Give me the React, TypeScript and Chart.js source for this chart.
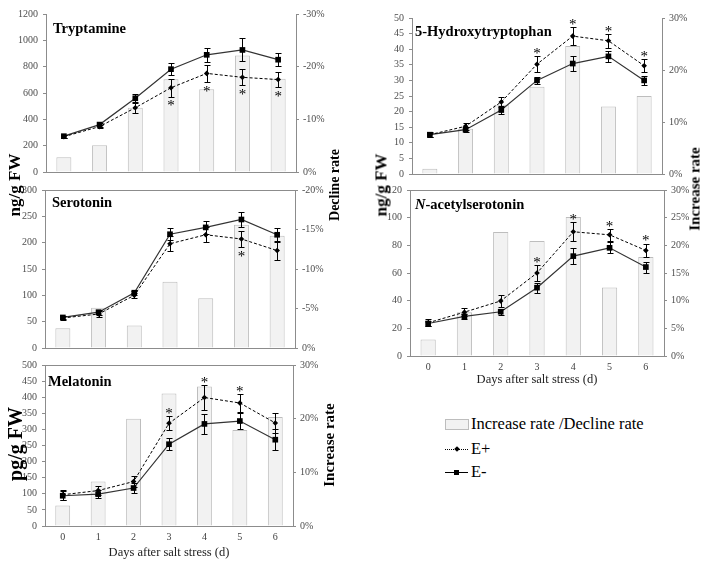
import React, { useEffect, useRef } from 'react';
import { Chart, registerables } from 'chart.js';
Chart.register(...registerables);

const days = ['0', '1', '2', '3', '4', '5', '6'];

// Tryptamine (ng/g FW), decline rate (%)
const tryptamineEPlus = [268, 345, 488, 640, 749, 719, 702];
const tryptamineEPlusErr = [12, 14, 43, 67, 65, 62, 56];
const tryptamineEMinus = [272, 360, 560, 781, 890, 927, 853];
const tryptamineEMinusErr = [12, 15, 33, 45, 52, 87, 50];
const tryptamineRate = [-2.8, -5.1, -12.2, -17.6, -15.7, -22.1, -17.7];
const tryptamineStars = [0, 0, 0, 1, 1, 1, 1];

// Serotonin (ng/g FW), decline rate (%)
const serotoninEPlus = [57, 64.5, 100, 198, 215, 207, 185];
const serotoninEPlusErr = [3, 6, 5, 14, 14, 16, 18];
const serotoninEMinus = [58, 68, 105, 216, 229, 244, 215];
const serotoninEMinusErr = [3, 5, 4, 11, 13, 14, 13];
const serotoninRate = [-2.5, -5.1, -2.85, -8.4, -6.3, -15.6, -14.2];
const serotoninStars = [0, 0, 0, 0, 0, 1, 0];

// Melatonin (pg/g FW), increase rate (%)
const melatoninEPlus = [97, 110, 138, 319, 399, 382, 320];
const melatoninEPlusErr = [15, 15, 18, 22, 40, 27, 32];
const melatoninEMinus = [94, 99, 118, 254, 317, 326, 268];
const melatoninEMinusErr = [14, 12, 17, 19, 30, 25, 32];
const melatoninRate = [3.8, 8.3, 20.0, 24.7, 26.0, 17.9, 20.3];
const melatoninStars = [0, 0, 0, 1, 1, 1, 0];

// 5-Hydroxytryptophan (ng/g FW), increase rate (%)
const htpEPlus = [12.6, 15.3, 23.1, 35.2, 44.2, 42.7, 34.7];
const htpEPlusErr = [0.7, 1.2, 1.7, 2.5, 3.0, 2.2, 2.0];
const htpEMinus = [12.6, 14.2, 20.5, 30.0, 35.4, 37.7, 30.0];
const htpEMinusErr = [0.8, 0.8, 1.2, 1.0, 2.3, 1.7, 1.5];
const htpRate = [1.0, 8.7, 13.3, 16.8, 24.6, 13.0, 15.0];
const htpStars = [0, 0, 0, 1, 1, 1, 1];

// N-acetylserotonin (ng/g FW), increase rate (%)
const nasEPlus = [24, 31.7, 39.8, 60, 89.8, 87.6, 76.3];
const nasEPlusErr = [2.5, 3, 4.5, 5.5, 7, 4.5, 5];
const nasEMinus = [23.5, 28.6, 32, 49.4, 72.2, 78.2, 64.3];
const nasEMinusErr = [2, 2, 2, 3.5, 6, 4, 4];
const nasRate = [3.0, 7.9, 22.4, 20.8, 25.1, 12.4, 17.9];
const nasStars = [0, 0, 0, 1, 1, 1, 1];

const xTitle = 'Days after salt stress (d)';
const FONT = '"Liberation Serif", "Times New Roman", serif';

type Panel = {
  key: string;
  italic?: string;
  name: string;
  ePlus: number[]; ePlusErr: number[];
  eMinus: number[]; eMinusErr: number[];
  rate: number[]; stars: number[]; starBelow: boolean;
  yMax: number; yStep: number;
  rMin: number; rMax: number; rStep: number; reverse: boolean;
  showX: boolean; xh: number;
  L: number; R: number; T: number; B: number;
  tdx: number; tdy: number; topBorder: boolean;
};

const panels: Panel[] = [
  { key: 'tryp', name: 'Tryptamine', ePlus: tryptamineEPlus, ePlusErr: tryptamineEPlusErr, eMinus: tryptamineEMinus, eMinusErr: tryptamineEMinusErr, rate: tryptamineRate, stars: tryptamineStars, starBelow: true,
    yMax: 1200, yStep: 200, rMin: -30, rMax: 0, rStep: 10, reverse: true, showX: false, xh: 8,
    L: 46, R: 296, T: 13, B: 175, tdx: 7, tdy: 15, topBorder: false },
  { key: 'sero', name: 'Serotonin', ePlus: serotoninEPlus, ePlusErr: serotoninEPlusErr, eMinus: serotoninEMinus, eMinusErr: serotoninEMinusErr, rate: serotoninRate, stars: serotoninStars, starBelow: true,
    yMax: 300, yStep: 50, rMin: -20, rMax: 0, rStep: 5, reverse: true, showX: false, xh: 8,
    L: 45, R: 295, T: 189, B: 351, tdx: 7, tdy: 13, topBorder: true },
  { key: 'mela', name: 'Melatonin', ePlus: melatoninEPlus, ePlusErr: melatoninEPlusErr, eMinus: melatoninEMinus, eMinusErr: melatoninEMinusErr, rate: melatoninRate, stars: melatoninStars, starBelow: false,
    yMax: 500, yStep: 50, rMin: 0, rMax: 30, rStep: 10, reverse: false, showX: true, xh: 40,
    L: 45, R: 293, T: 364, B: 526, tdx: 3, tdy: 17, topBorder: true },
  { key: 'htp', name: '5-Hydroxytryptophan', ePlus: htpEPlus, ePlusErr: htpEPlusErr, eMinus: htpEMinus, eMinusErr: htpEMinusErr, rate: htpRate, stars: htpStars, starBelow: false,
    yMax: 50, yStep: 5, rMin: 0, rMax: 30, rStep: 10, reverse: false, showX: false, xh: 8,
    L: 412, R: 662, T: 17, B: 177, tdx: 3, tdy: 14, topBorder: false },
  { key: 'nas', italic: 'N', name: '-acetylserotonin', ePlus: nasEPlus, ePlusErr: nasEPlusErr, eMinus: nasEMinus, eMinusErr: nasEMinusErr, rate: nasRate, stars: nasStars, starBelow: false,
    yMax: 120, yStep: 20, rMin: 0, rMax: 30, rStep: 5, reverse: false, showX: true, xh: 37,
    L: 410, R: 664, T: 189, B: 356, tdx: 5, tdy: 15, topBorder: true },
];

const errorBarPlugin = {
  id: 'errorBars',
  afterDatasetsDraw(chart: any) {
    const ctx = chart.ctx;
    const ys = chart.scales.y;
    chart.data.datasets.forEach((ds: any, di: number) => {
      if (!ds.errors) return;
      const meta = chart.getDatasetMeta(di);
      ctx.save();
      ctx.strokeStyle = '#000';
      ctx.lineWidth = 1;
      ctx.setLineDash([]);
      meta.data.forEach((pt: any, i: number) => {
        const v = ds.data[i];
        const e = ds.errors[i];
        const x = Math.round(pt.x) + 0.5;
        const yt = Math.round(ys.getPixelForValue(v + e)) + 0.5;
        const yb = Math.round(ys.getPixelForValue(v - e)) + 0.5;
        ctx.beginPath();
        ctx.moveTo(x, yt); ctx.lineTo(x, yb);
        ctx.moveTo(x - 3, yt); ctx.lineTo(x + 3, yt);
        ctx.moveTo(x - 3, yb); ctx.lineTo(x + 3, yb);
        ctx.stroke();
      });
      if (ds.stars) {
        ctx.font = '15px ' + FONT;
        ctx.fillStyle = '#000';
        ctx.textAlign = 'center';
        ctx.textBaseline = 'middle';
        ds.stars.forEach((s: number, i: number) => {
          if (!s) return;
          const pt = meta.data[i];
          const v = ds.data[i];
          const e = ds.errors[i];
          const yy = ds.starBelow ? ys.getPixelForValue(v - e) + 10 : ys.getPixelForValue(v + e) - 2;
          ctx.fillText('*', pt.x, yy);
        });
      }
      ctx.restore();
    });
  },
};

const panelTitlePlugin = {
  id: 'panelTitle',
  afterDraw(chart: any, _args: any, opts: any) {
    const { ctx, chartArea } = chart;
    ctx.save();
    if (opts.topBorder) {
      ctx.strokeStyle = '#8c8c8c';
      ctx.lineWidth = 1;
      ctx.beginPath();
      ctx.moveTo(chartArea.left, Math.round(chartArea.top) + 0.5);
      ctx.lineTo(chartArea.right, Math.round(chartArea.top) + 0.5);
      ctx.stroke();
    }
    ctx.fillStyle = '#000';
    ctx.textBaseline = 'middle';
    ctx.textAlign = 'left';
    let x = chartArea.left + opts.dx;
    const y = chartArea.top + opts.dy;
    if (opts.italic) {
      ctx.font = 'italic bold 14.5px ' + FONT;
      ctx.fillText(opts.italic, x, y);
      x += ctx.measureText(opts.italic).width;
    }
    ctx.font = 'bold 14.5px ' + FONT;
    ctx.fillText(opts.text, x, y);
    ctx.restore();
  },
};

function PanelChart({ p }: { p: Panel }) {
  const ref = useRef<HTMLCanvasElement>(null);
  const padTop = 10;
  const xh = p.xh;
  const w = p.R - p.L + 90;
  const h = p.B - p.T + padTop + xh;
  useEffect(() => {
    const chart = new Chart(ref.current as HTMLCanvasElement, {
      type: 'bar',
      data: {
        labels: days,
        datasets: [
          {
            type: 'line', label: 'E+', data: p.ePlus, errors: p.ePlusErr, stars: p.stars, starBelow: p.starBelow,
            borderColor: '#000', borderWidth: 1, borderDash: [3, 2], pointStyle: 'rectRot', pointRadius: 2.8,
            pointBackgroundColor: '#000', pointBorderColor: '#000', pointBorderWidth: 0, yAxisID: 'y', order: 1,
          } as any,
          {
            type: 'line', label: 'E-', data: p.eMinus, errors: p.eMinusErr,
            borderColor: '#333', borderWidth: 1.2, pointStyle: 'rect', pointRadius: 4,
            pointBackgroundColor: '#000', pointBorderColor: '#000', pointBorderWidth: 0, yAxisID: 'y', order: 2,
          } as any,
          {
            type: 'bar', label: 'rate', data: p.rate, backgroundColor: '#f2f2f2', borderColor: '#bdbdbd',
            borderWidth: 1, yAxisID: 'y1', barPercentage: 0.42, categoryPercentage: 1, order: 3,
          } as any,
        ],
      },
      options: {
        animation: false,
        responsive: false,
        maintainAspectRatio: false,
        layout: { padding: { top: padTop, left: 0, right: 0, bottom: 0 } },
        plugins: {
          legend: { display: false },
          tooltip: { enabled: false },
          panelTitle: { text: p.name, italic: p.italic, dx: p.tdx, dy: p.tdy, topBorder: p.topBorder },
        } as any,
        scales: {
          x: {
            grid: { display: false, drawTicks: false },
            border: { display: true, color: '#8c8c8c' },
            ticks: { display: p.showX, color: '#404040', font: { size: 10, family: FONT }, padding: 5 },
            title: { display: p.showX, text: xTitle, color: '#222', font: { size: 12.5, family: FONT }, padding: { top: 0, bottom: 5.5 } },
            afterFit: (s: any) => { s.height = xh; },
          },
          y: {
            position: 'left', min: 0, max: p.yMax,
            ticks: { stepSize: p.yStep, color: '#4d4d4d', font: { size: 10, family: FONT }, padding: 5, callback: (v: any) => String(v) },
            grid: { drawOnChartArea: false, drawTicks: true, tickLength: 3, color: '#8c8c8c' },
            border: { display: true, color: '#8c8c8c' },
            afterFit: (s: any) => { s.width = 45; },
          },
          y1: {
            position: 'right', min: p.rMin, max: p.rMax, reverse: p.reverse,
            ticks: { stepSize: p.rStep, color: '#4d4d4d', font: { size: 10, family: FONT }, padding: 4, callback: (v: any) => v + '%' },
            grid: { drawOnChartArea: false, drawTicks: true, tickLength: 3, color: '#8c8c8c' },
            border: { display: true, color: '#8c8c8c' },
            afterFit: (s: any) => { s.width = 45; },
          },
        } as any,
      },
      plugins: [errorBarPlugin, panelTitlePlugin],
    } as any);
    return () => chart.destroy();
  }, []);
  return (
    <canvas
      ref={ref}
      width={w}
      height={h}
      style={{ position: 'absolute', left: p.L - 45, top: p.T - padTop, width: w, height: h }}
    />
  );
}

function VTitle({ text, x, y, size }: { text: string; x: number; y: number; size: number }) {
  return (
    <div
      style={{
        position: 'absolute', left: x, top: y, transform: 'translate(-50%, -50%) rotate(-90deg)',
        whiteSpace: 'nowrap', fontFamily: FONT, fontWeight: 'bold', fontSize: size, color: '#000', lineHeight: 1,
      }}
    >
      {text}
    </div>
  );
}

export default function App() {
  return (
    <div style={{ position: 'absolute', left: 0, top: 0, width: 714, height: 568, background: '#fff', overflow: 'hidden', fontFamily: FONT }}>
      {panels.map((p) => <PanelChart key={p.key} p={p} />)}
      <VTitle text="ng/g FW" x={14} y={185} size={17} />
      <VTitle text="Decline rate" x={335} y={185} size={14} />
      <VTitle text="pg/g FW" x={15} y={444} size={20} />
      <VTitle text="Increase rate" x={329} y={445} size={15} />
      <VTitle text="ng/g FW" x={381} y={185} size={17} />
      <VTitle text="Increase rate" x={695} y={189} size={15} />
      {/* legend */}
      <div style={{ position: 'absolute', left: 445, top: 419, width: 22, height: 9, background: '#f2f2f2', border: '1px solid #bdbdbd' }} />
      <div style={{ position: 'absolute', left: 471, top: 414, fontSize: 16.5, lineHeight: '20px', color: '#000', whiteSpace: 'nowrap' }}>Increase rate /Decline rate</div>
      <div style={{ position: 'absolute', left: 445, top: 449, width: 23, height: 0, borderTop: '1px dotted #000' }} />
      <div style={{ position: 'absolute', left: 455, top: 447, width: 4, height: 4, background: '#000', transform: 'rotate(45deg)' }} />
      <div style={{ position: 'absolute', left: 471, top: 439, fontSize: 16.5, lineHeight: '20px', color: '#000' }}>E+</div>
      <div style={{ position: 'absolute', left: 445, top: 472, width: 23, height: 0, borderTop: '1px solid #000' }} />
      <div style={{ position: 'absolute', left: 454, top: 470, width: 5, height: 5, background: '#000' }} />
      <div style={{ position: 'absolute', left: 471, top: 462, fontSize: 16.5, lineHeight: '20px', color: '#000' }}>E-</div>
    </div>
  );
}
